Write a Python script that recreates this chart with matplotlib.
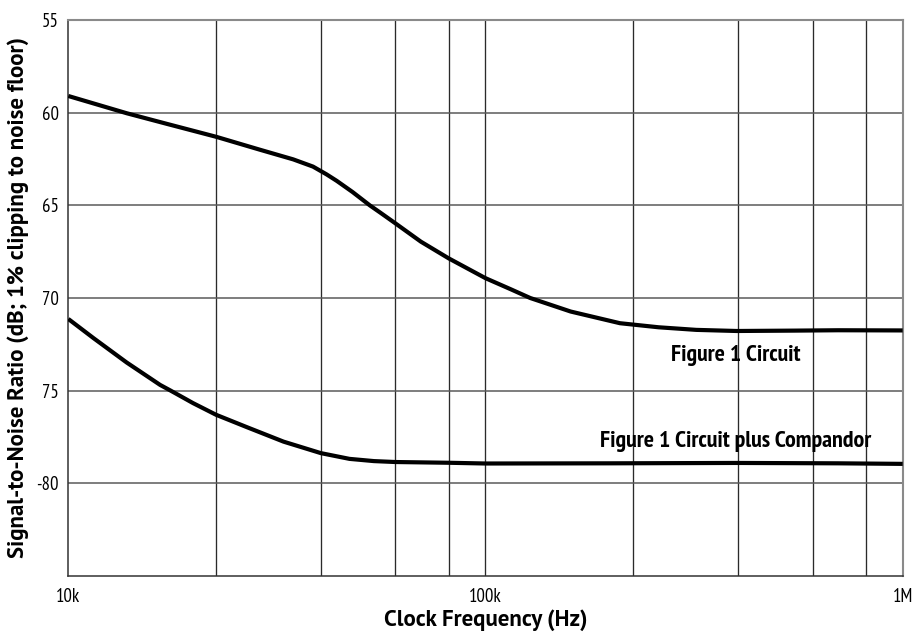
import numpy as np
import matplotlib
matplotlib.use("Agg")
import matplotlib.pyplot as plt
from matplotlib.ticker import NullLocator

# clock frequency (kHz) vs SNR (dB)
freq_plain = [10, 13.8, 17.2, 22.6, 28.8, 34.6, 38.6, 41.6, 44, 48, 52.8, 56,
              60.8, 70, 81.6, 100, 115, 128, 160, 210, 260, 320, 400, 550, 700, 1000]
snr_plain = [59.1, 60.03, 60.6, 61.3, 62.0, 62.52, 62.91, 63.33, 63.68, 64.28,
             65.0, 65.4, 65.97, 66.96, 67.86, 68.93, 69.53, 70.0, 70.73, 71.36,
             71.58, 71.72, 71.78, 71.76, 71.74, 71.75]

freq_comp = [10, 11.5, 13.8, 16.6, 17.6, 19.9, 22.6, 26.8, 32.8, 40.3, 47.2,
             54, 60.8, 81.6, 100, 200, 400, 700, 1000]
snr_comp = [71.13, 72.17, 73.48, 74.69, 75.0, 75.67, 76.3, 76.97, 77.75, 78.37,
            78.68, 78.8, 78.85, 78.89, 78.93, 78.92, 78.9, 78.92, 78.95]

xtick_vals = [1e4, 1e5, 1e6]
xtick_labels = ["10k", "100k", "1M"]
grid_mult = [2.26, 4.03, 6.08, 8.17]   # vertical rules inside each decade
ytick_vals = [55, 60, 65, 70, 75, 80, 85]
ytick_labels = ["55", "60", "65", "70", "75", "-80", ""]

narrow = ["PT Sans Narrow", "DejaVu Sans"]
bold = ["PT Sans", "DejaVu Sans"]

fig = plt.figure(figsize=(9.13, 6.32), dpi=100)
ax = fig.add_axes([68.3 / 913, 56 / 632, 834.4 / 913, 556 / 632])

ax.set_xscale("log")
ax.set_xlim(1e4, 1e6)
ax.set_ylim(85, 55)

# grid
for decade in [1e4, 1e5]:
    for m in grid_mult:
        ax.axvline(decade * m, color="#2a2a2a", lw=0.95, zorder=1)
ax.axvline(1e5, color="#2a2a2a", lw=0.95, zorder=1)
for y in ytick_vals[1:-1]:
    ax.axhline(y, color="#5a5a5a", lw=1.1, zorder=1)

ax.plot(np.array(freq_plain) * 1e3, snr_plain, color="black", lw=3.0,
        solid_capstyle="butt", solid_joinstyle="round", zorder=3)
ax.plot(np.array(freq_comp) * 1e3, snr_comp, color="black", lw=3.0,
        solid_capstyle="butt", solid_joinstyle="round", zorder=3)

ax.text(279e3, 73.38, "Figure 1 Circuit", family=narrow, fontweight="bold",
        fontsize=17.2, ha="left", va="baseline", zorder=4)
ax.text(188.6e3, 78.05, "Figure 1 Circuit plus Compandor", family=narrow,
        fontweight="bold", fontsize=17.3, ha="left", va="baseline", zorder=4)

ax.xaxis.set_minor_locator(NullLocator())
ax.set_xticks(xtick_vals)
ax.set_xticklabels(xtick_labels)
ax.set_yticks(ytick_vals)
ax.set_yticklabels(ytick_labels)
ax.tick_params(axis="both", length=0, labelsize=13.5)
ax.tick_params(axis="x", pad=9)
ax.tick_params(axis="y", pad=7)
for lab in ax.get_xticklabels() + ax.get_yticklabels():
    lab.set_family(narrow)

for side in ["top", "right"]:
    ax.spines[side].set_color("#8a8a8a")
    ax.spines[side].set_linewidth(1.5)
for side in ["left", "bottom"]:
    ax.spines[side].set_color("#333333")
    ax.spines[side].set_linewidth(1.1)

ax.set_xlabel("Clock Frequency (Hz)", family=bold, fontweight="bold", fontsize=16.5)
ax.set_ylabel("Signal-to-Noise Ratio (dB; 1% clipping to noise floor)",
              family=bold, fontweight="bold", fontsize=16.5)
ax.xaxis.label.set_va("center")
ax.yaxis.label.set_va("center")
ax.xaxis.set_label_coords(0.5, -0.079)
ax.yaxis.set_label_coords(-0.0603, 0.5)

fig.savefig("out.png", dpi=100)
